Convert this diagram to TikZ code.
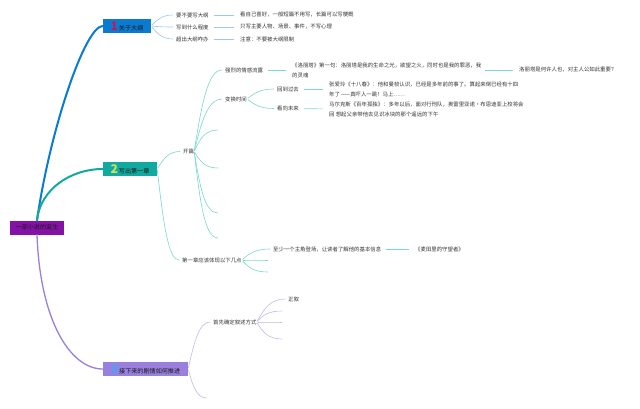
\documentclass[tikz,border=0pt]{standalone}
\usepackage{fontspec}
\setmainfont{Noto Sans CJK SC}
\usetikzlibrary{calc}
\definecolor{cblue}{HTML}{0B7BD1}
\definecolor{cteal}{HTML}{12A9A0}
\definecolor{clav}{HTML}{9A80DE}
\definecolor{cpurp}{HTML}{8512A6}
\definecolor{lblue}{HTML}{9CC8EA}
\definecolor{lteal}{HTML}{78D9CF}
\definecolor{llav}{HTML}{C7B8EC}
\definecolor{dgone}{HTML}{C2185B}
\definecolor{dgtwo}{HTML}{D4E157}
\definecolor{dgthree}{HTML}{42A5F5}
\definecolor{txtc}{HTML}{333333}
\newcommand\bigdigit[2]{{\color{#1}\fontsize{12}{12}\selectfont\bfseries #2}}
\begin{document}
\begin{tikzpicture}[x=1pt,y=-1pt,
  box/.style={inner sep=0pt, minimum height=14pt, anchor=center, text=black!90, font=\fontsize{6.1}{7}\selectfont},
  txt/.style={anchor=west, inner xsep=0pt, inner ysep=1pt, font=\fontsize{5.4}{10}\selectfont, align=left, text=txtc},
  trunk/.style={line width=#1, line cap=round},
  lb/.style={draw=lblue, line width=0.6pt},
  lt/.style={draw=lteal, line width=0.6pt},
  ll/.style={draw=llav, line width=0.6pt},
  xm/.style={to path={let \p1=(\tikztostart), \p2=(\tikztotarget) in
      .. controls ({\x1+0.25*(\x2-\x1)},{\y1+0.6*(\y2-\y1)}) and ({\x1+0.45*(\x2-\x1)},{\y2}) .. (\tikztotarget) \tikztonodes}},
  cv/.style={xm, shorten <=1pt, shorten >=3pt},
  ce/.style={xm, shorten <=1pt},
  hz/.style={shorten <=5pt, shorten >=6pt}]
\useasboundingbox[fill=white] (0,0) rectangle (640,408);

% main boxes
\node[box,fill=cpurp,minimum width=54pt] (root) at (37,227.5) {一部小说的诞生};
\node[box,fill=cblue,minimum width=48pt] (n1) at (127,26) {\bigdigit{dgone}{1}\,关于大纲};
\node[box,fill=cteal,minimum width=54pt] (n2) at (130,169) {\bigdigit{dgtwo}{2}\,写出第一章};
\node[box,fill=clav,minimum width=85pt] (n3) at (145.5,369) {\bigdigit{dgthree}{3}\,接下来的剧情如何推进};

% trunk connectors
\draw[cblue,trunk=2pt] (root.north) .. controls (50,130) and (85,26) .. (n1.west);
\draw[cteal,trunk=2pt] (root.north) .. controls (40,190) and (70,169) .. (n2.west);
\draw[clav,trunk=1.3pt] (root.south) .. controls (40,320) and (70,369) .. (n3.west);

% branch 1
\node[txt] (a1) at (176,15) {要不要写大纲};
\node[txt] (a2) at (176,27) {写到什么程度};
\node[txt] (a3) at (176,39) {超出大纲咋办};
\node[txt] (b1) at (240,15) {看自己喜好，一般短篇不用写，长篇可以写梗概};
\node[txt] (b2) at (240,27) {只写主要人物、场景、事件，不写心理};
\node[txt] (b3) at (240,39) {注意：不要被大纲限制};
\foreach \c in {a1,a2,a3} \draw[lb,cv] (n1.east) to (\c.west);
\draw[lb,hz] (a1.east) -- (b1.west);
\draw[lb,hz] (a2.east) -- (b2.west);
\draw[lb,hz] (a3.east) -- (b3.west);

% branch 2
\node[txt] (kp) at (183,151.5) {开篇};
\node[txt] (dy) at (182,260) {第一章应该体现以下几点};
\draw[lt,cv] (n2.east) to (kp.west);
\draw[lt,cv] (n2.east) to (dy.west);

\node[txt] (qg) at (225,70) {强烈的情感流露};
\node[txt] (bh) at (225,99) {变换时间};
\coordinate (k3) at (218,130);
\coordinate (k4) at (218,168);
\coordinate (k5) at (218,213);
\coordinate (k6) at (218,238);
\draw[lt,cv] (kp.east) to (qg.west);
\draw[lt,cv] (kp.east) to (bh.west);
\foreach \c in {k3,k4,k5,k6} \draw[lt,ce] (kp.east) to (\c);

\node[txt] (ll) at (292,70) {《洛丽塔》第一句：洛丽塔是我的生命之光，欲望之火，同时也是我的罪恶，我\\的灵魂};
\node[txt] (lq) at (519,70) {洛丽塔是何许人也，对主人公如此重要？};
\draw[lt,hz] (qg.east) -- (ll.west);
\draw[lt,shorten <=4pt,shorten >=6pt] (ll.east) -- (lq.west);

\node[txt] (hq) at (277,89) {回到过去};
\node[txt] (kx) at (277,108.5) {看向未来};
\draw[lt,cv] (bh.east) to (hq.west);
\draw[lt,cv] (bh.east) to (kx.west);
\node[txt] (zl) at (329,89) {张爱玲《十八春》：他和曼桢认识，已经是多年前的事了。算起来倒已经有十四\\年了 ——真吓人一跳！马上……};
\node[txt] (me) at (329,109) {马尔克斯《百年孤独》：多年以后，面对行刑队，奥雷里亚诺·布恩迪亚上校将会\\回 想起父亲带他去见识冰块的那个遥远的下午};
\draw[lt,hz] (hq.east) -- (zl.west);
\draw[lt,hz] (kx.east) -- (me.west);

\node[txt] (zs) at (273,249) {至少一个主角登场，让读者了解他的基本信息};
\node[txt] (mt) at (415,249) {《麦田里的守望者》};
\coordinate (e2) at (268,260);
\coordinate (e3) at (268,272);
\draw[lt,cv] (dy.east) to (zs.west);
\foreach \c in {e2,e3} \draw[lt,ce] (dy.east) to (\c);
\draw[lt,hz] (zs.east) -- (mt.west);

% branch 3
\node[txt] (sx) at (213,322) {首先确定叙述方式};
\coordinate (f2) at (207,398);
\draw[ll,cv] (n3.east) to (sx.west);
\draw[ll,ce] (n3.east) to (f2);
\node[txt] (zx) at (288,299) {正叙};
\coordinate (g2) at (282,311);
\coordinate (g3) at (282,322);
\coordinate (g4) at (282,339);
\draw[ll,cv] (sx.east) to (zx.west);
\foreach \c in {g2,g3,g4} \draw[ll,ce] (sx.east) to (\c);
\end{tikzpicture}
\end{document}
